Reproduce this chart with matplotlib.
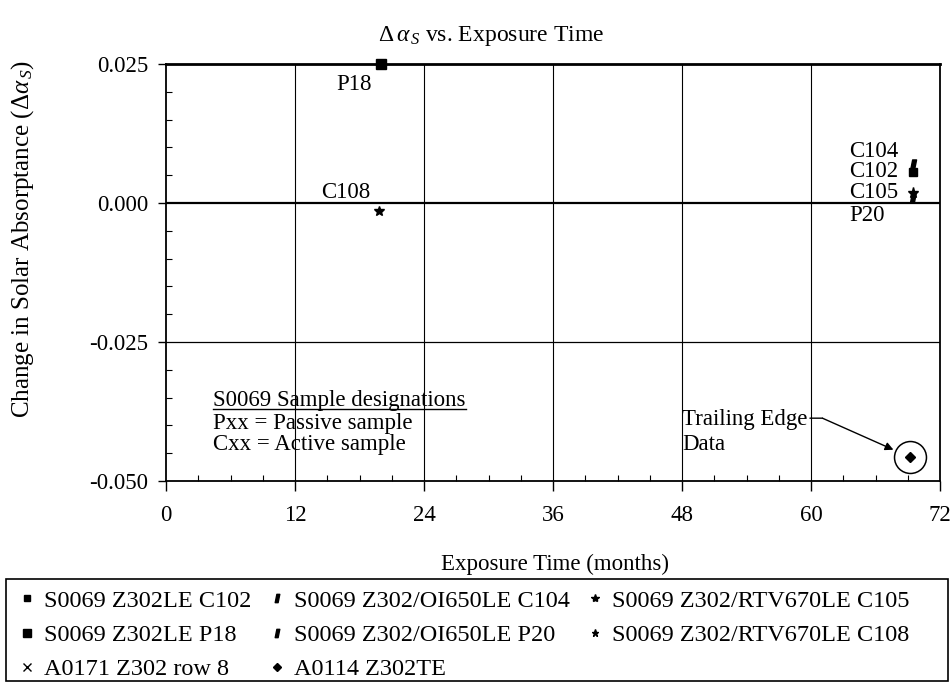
import matplotlib
matplotlib.use("Agg")
import matplotlib.pyplot as plt
from matplotlib.lines import Line2D
from matplotlib.patches import Rectangle
from matplotlib.path import Path
from matplotlib.transforms import offset_copy

plt.rcParams["font.family"] = ["Liberation Serif", "DejaVu Serif"]
plt.rcParams["mathtext.fontset"] = "custom"
plt.rcParams["mathtext.rm"] = "Liberation Serif"
plt.rcParams["mathtext.it"] = "Liberation Serif:italic"

# --- data ---
c102_x, c102_y = [69.5], [0.0056]
p18_x, p18_y = [20.0], [0.0250]
c104_x, c104_y = [69.5], [0.0068]
p20_x, p20_y = [69.5], [0.0010]
c105_x, c105_y = [69.5], [0.0018]
c108_x, c108_y = [19.8], [-0.0014]
a0171_x, a0171_y = [], []
a0114_x, a0114_y = [69.2], [-0.0457]

x_ticks = [0, 12, 24, 36, 48, 60, 72]
y_ticks = [-0.050, -0.025, 0.000, 0.025]
y_tick_labels = ["-0.050", "-0.025", "0.000", "0.025"]

# slanted "#"-like glyph used by the OI650 series
slant = Path([(-0.55, -1), (0.15, -1), (0.55, 1), (-0.15, 1), (-0.55, -1)],
             [Path.MOVETO, Path.LINETO, Path.LINETO, Path.LINETO, Path.CLOSEPOLY])

fig = plt.figure(figsize=(9.53, 6.83), dpi=100)
ax = fig.add_axes([0.1742, 0.2958, 0.8122, 0.6105])

series = [
    (c102_x, c102_y, "s", 6, "S0069 Z302LE C102"),
    (p18_x, p18_y, "s", 7.5, "S0069 Z302LE P18"),
    (a0171_x, a0171_y, "x", 8, "A0171 Z302 row 8"),
    (c104_x, c104_y, slant, 8, "S0069 Z302/OI650LE C104"),
    (p20_x, p20_y, slant, 8, "S0069 Z302/OI650LE P20"),
    (a0114_x, a0114_y, "D", 5.5, "A0114 Z302TE"),
    (c105_x, c105_y, "*", 8, "S0069 Z302/RTV670LE C105"),
    (c108_x, c108_y, "*", 7, "S0069 Z302/RTV670LE C108"),
]
handles = []
for xs, ys, mk, ms, lab in series:
    h, = ax.plot(xs, ys, linestyle="none", marker=mk, markersize=ms,
                 color="black", mec="black", label=lab, zorder=4, clip_on=False)
    handles.append(h)

# circle around trailing-edge point
ax.plot(a0114_x, a0114_y, linestyle="none", marker="o", markersize=23,
        mfc="none", mec="black", mew=1.1, zorder=3)

ax.set_xlim(0, 72)
ax.set_ylim(-0.050, 0.025)
ax.set_xticks(x_ticks)
ax.set_xticks(range(0, 73, 3), minor=True)
ax.set_yticks(y_ticks)
ax.set_yticklabels(y_tick_labels)
ax.set_yticks([i * 0.005 - 0.050 for i in range(16)], minor=True)
ax.tick_params(which="major", direction="out", length=6, width=1, labelsize=16.5)
ax.tick_params(axis="x", which="major", length=7, pad=10)
ax.tick_params(axis="y", which="major", pad=7)
ax.tick_params(which="minor", direction="in", length=4, width=0.8)

for x in x_ticks[1:-1]:
    ax.axvline(x, color="black", lw=0.8, zorder=1)
ax.axhline(-0.025, color="black", lw=0.9, zorder=1)
ax.axhline(0.0, color="black", lw=1.6, zorder=1)
for sp in ax.spines.values():
    sp.set_linewidth(1.3)
ax.spines["top"].set_linewidth(2)

# point labels
lab_kw = dict(textcoords="offset points", fontsize=16.5)
ax.annotate("P18", (p18_x[0], p18_y[0]), xytext=(-19.5, -14.5), ha="center", va="center", **lab_kw)
ax.annotate("C108", (c108_x[0], c108_y[0]), xytext=(-24, 13.5), ha="center", va="center", **lab_kw)
ax.annotate("C104", (c104_x[0], c104_y[0]), xytext=(-46, 10), ha="left", va="center", **lab_kw)
ax.annotate("C102", (c102_x[0], c102_y[0]), xytext=(-46, 0), ha="left", va="center", **lab_kw)
ax.annotate("C105", (c105_x[0], c105_y[0]), xytext=(-46, 0), ha="left", va="center", **lab_kw)
ax.annotate("P20", (p20_x[0], p20_y[0]), xytext=(-46, -13), ha="left", va="center", **lab_kw)

# trailing edge callout
te = (a0114_x[0], a0114_y[0])
ax.annotate("Trailing Edge\nData", te, xytext=(-164, 18), ha="left", va="center",
            linespacing=1.3, **lab_kw)
knee = offset_copy(ax.transData, fig=fig, x=-63, y=28, units="points")
start = offset_copy(ax.transData, fig=fig, x=-72, y=28, units="points")
ax.annotate("", te, xycoords=knee, xytext=te, textcoords=start,
            arrowprops=dict(arrowstyle="-", lw=1, color="black", shrinkA=0, shrinkB=0))
ax.annotate("", te, xytext=(-63, 28), textcoords="offset points",
            arrowprops=dict(arrowstyle="-|>", lw=1, color="black", mutation_scale=12,
                            shrinkA=0, shrinkB=13))

# sample designation note
note = ax.text(0.061, 0.192, "S0069 Sample designations", transform=ax.transAxes,
               fontsize=16.5, ha="left", va="center")
ax.text(0.061, 0.163, "Pxx = Passive sample\nCxx = Active sample", transform=ax.transAxes,
        fontsize=16.5, ha="left", va="top", linespacing=1.03)

fig.text(0.515, 0.947, r"$\Delta\,\alpha_{\,S}$ vs. Exposure Time", fontsize=17,
         ha="center", va="center")
fig.text(0.024, 0.650, r"Change in Solar Absorptance ($\Delta\alpha_{\,S}$)", fontsize=18,
         rotation=90, ha="center", va="center")
fig.text(0.582, 0.173, "Exposure Time (months)", fontsize=16.5, ha="center", va="center")

# legend: entries without their own frame, box drawn separately
leg = fig.legend(handles=handles, ncol=3, loc="lower left",
                 bbox_to_anchor=(0.0155, -0.003),
                 frameon=False, fontsize=17.5,
                 handlelength=0.6, handletextpad=0.4, columnspacing=0.75,
                 labelspacing=0.5, borderpad=0.2, markerscale=0.75,
                 borderaxespad=0)
fig.add_artist(Rectangle((0.006, 0.003), 0.989, 0.149, transform=fig.transFigure,
                         fill=False, edgecolor="black", lw=1.2))

# underline the note heading
fig.canvas.draw()
bb = note.get_window_extent().transformed(fig.transFigure.inverted())
fig.add_artist(Line2D([bb.x0, bb.x1], [bb.y0 + 0.004, bb.y0 + 0.004],
                      transform=fig.transFigure, color="black", lw=1))

fig.savefig("out.png", dpi=100)
